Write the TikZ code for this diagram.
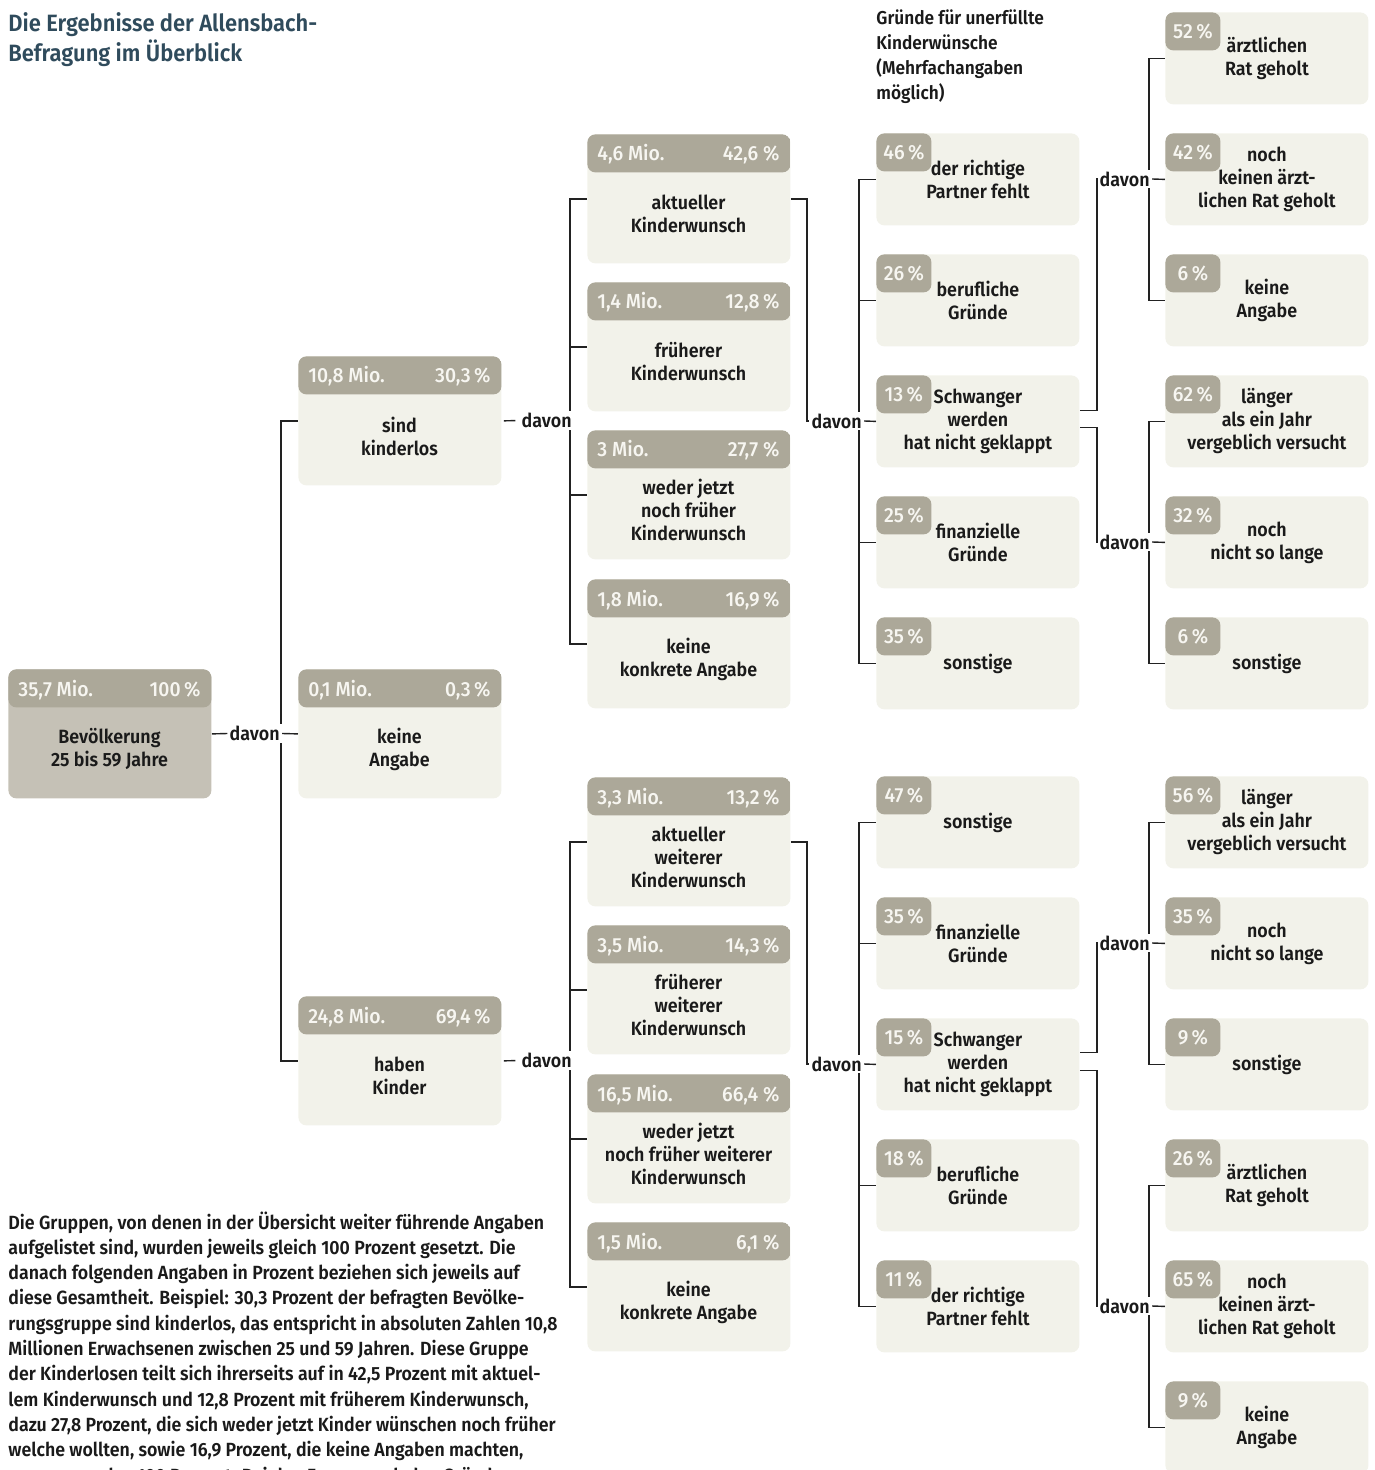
\documentclass[tikz,border=0pt]{standalone}
\usepackage{fontspec}
\setmainfont{Fira Sans SemiBold}[FakeStretch=0.93]
\newfontfamily\hdfont{Fira Sans Medium}[FakeStretch=0.95]
\usetikzlibrary{calc,backgrounds}
\definecolor{bodyc}{HTML}{F2F2EA}
\definecolor{headc}{HTML}{ACA899}
\definecolor{rootc}{HTML}{C5C1B6}
\definecolor{titlec}{HTML}{2F4B5C}
\definecolor{txtc}{HTML}{1A1A1A}
\definecolor{hdtxt}{HTML}{F7F6F1}
\definecolor{linec}{HTML}{222222}

\tikzset{
  bigbox/.style={draw=none, fill=bodyc, rounded corners=4pt, minimum width=101.5pt,
    minimum height=64.5pt, inner sep=0pt, anchor=north west,
    path picture={\fill[headc] (path picture bounding box.north west) rectangle
      ([yshift=-19pt]path picture bounding box.north east);}},
  rootbox/.style={fill=rootc},
  smallbox/.style={draw=none, fill=bodyc, rounded corners=4pt, minimum width=101.5pt,
    minimum height=46pt, inner sep=0pt, anchor=north west},
  badge/.style={anchor=north west, fill=headc, rounded corners=4pt, minimum width=27.5pt,
    minimum height=19pt, inner sep=0pt, text=hdtxt, font=\hdfont\fontsize{10.2}{12}\selectfont},
  hdtext/.style={font=\hdfont\fontsize{10.2}{12}\selectfont, text=hdtxt, inner sep=0pt},
  boxtext/.style={align=center, font=\fontsize{9.6}{11.5}\selectfont, text=txtc, inner sep=0pt},
  davon/.style={font=\fontsize{9.6}{11.5}\selectfont, text=txtc, fill=white, inner sep=1pt, anchor=east},
  ln/.style={draw=linec, line width=0.7pt},
}

\newcommand\BigBox[7]{%
  \node[bigbox,#7] (#1) at (#2,#3) {};
  \node[hdtext,anchor=base west] (#1-m) at ($(#1.north west)+(10,27)$) {#4};
  \node[hdtext,anchor=base east] (#1-p) at ($(#1.north east)+(-11,27)$) {#5};
  \node[boxtext] (#1-t) at ($(#1.north west)+(101.5,80)$) {#6};
}
\newcommand\SmallBox[5]{%
  \node[smallbox] (#1) at (#2,#3) {};
  \node[badge] (#1-b) at (#1.north west) {#4};
  \node[boxtext] (#1-t) at (#1.center) {#5};
}

\begin{document}
\begin{tikzpicture}[x=0.5pt,y=-0.5pt]
\useasboundingbox (0,0) rectangle (1374,1470);
\clip (0,0) rectangle (1374,1470);

% titles (anchor = baseline of last line)
\node[anchor=base west, align=left, font=\fontsize{11.8}{15}\selectfont, text=titlec, inner sep=0pt]
  (title) at (8,62) {Die Ergebnisse der Allensbach-\\Befragung im Überblick};
\node[anchor=base west, align=left, font=\fontsize{9.3}{12.65}\selectfont, text=txtc, inner sep=0pt]
  (head) at (876,100) {Gründe für unerfüllte\\Kinderwünsche\\(Mehrfachangaben\\möglich)};

% note
\node[anchor=base west, align=left, font=\fontsize{9.55}{12.65}\selectfont, text=txtc, inner sep=0pt]
  (note) at (8,1482) {Die Gruppen, von denen in der Übersicht weiter führende Angaben\\
aufgelistet sind, wurden jeweils gleich 100 Prozent gesetzt. Die\\
danach folgenden Angaben in Prozent beziehen sich jeweils auf\\
diese Gesamtheit. Beispiel: 30,3 Prozent der befragten Bevölke-\\
rungsgruppe sind kinderlos, das entspricht in absoluten Zahlen 10,8\\
Millionen Erwachsenen zwischen 25 und 59 Jahren. Diese Gruppe\\
der Kinderlosen teilt sich ihrerseits auf in 42,5 Prozent mit aktuel-\\
lem Kinderwunsch und 12,8 Prozent mit früherem Kinderwunsch,\\
dazu 27,8 Prozent, die sich weder jetzt Kinder wünschen noch früher\\
welche wollten, sowie 16,9 Prozent, die keine Angaben machten,\\
zusammen also 100 Prozent. Bei den Fragen nach den Gründen};

% column 1
\BigBox{root}{8}{669}{35,7 Mio.}{100\,\%}{Bevölkerung\\25 bis 59 Jahre}{rootbox}
% column 2
\BigBox{k1}{298}{356}{10,8 Mio.}{30,3\,\%}{sind\\kinderlos}{}
\BigBox{k2}{298}{669}{0,1 Mio.}{0,3\,\%}{keine\\Angabe}{}
\BigBox{k3}{298}{996}{24,8 Mio.}{69,4\,\%}{haben\\Kinder}{}
% column 3
\BigBox{c1}{587}{134}{4,6 Mio.}{42,6 \%}{aktueller\\Kinderwunsch}{}
\BigBox{c2}{587}{282}{1,4 Mio.}{12,8\,\%}{früherer\\Kinderwunsch}{}
\BigBox{c3}{587}{430}{3 Mio.}{27,7 \%}{weder jetzt\\noch früher\\Kinderwunsch}{}
\BigBox{c4}{587}{579}{1,8 Mio.}{16,9\,\%}{keine\\konkrete Angabe}{}
\BigBox{c5}{587}{777}{3,3 Mio.}{13,2\,\%}{aktueller\\weiterer\\Kinderwunsch}{}
\BigBox{c6}{587}{925}{3,5 Mio.}{14,3\,\%}{früherer\\weiterer\\Kinderwunsch}{}
\BigBox{c7}{587}{1074}{16,5 Mio.}{66,4 \%}{weder jetzt\\noch früher weiterer\\Kinderwunsch}{}
\BigBox{c8}{587}{1222}{1,5 Mio.}{6,1 \%}{keine\\konkrete Angabe}{}
% column 4
\SmallBox{r1}{876}{133}{46\,\%}{der richtige\\Partner fehlt}
\SmallBox{r2}{876}{254}{26\,\%}{berufliche\\Gründe}
\SmallBox{r3}{876}{375}{13\,\%}{Schwanger\\werden\\hat nicht geklappt}
\SmallBox{r4}{876}{496}{25\,\%}{finanzielle\\Gründe}
\SmallBox{r5}{876}{617}{35\,\%}{sonstige}
\SmallBox{q1}{876}{776}{47\,\%}{sonstige}
\SmallBox{q2}{876}{897}{35\,\%}{finanzielle\\Gründe}
\SmallBox{q3}{876}{1018}{15\,\%}{Schwanger\\werden\\hat nicht geklappt}
\SmallBox{q4}{876}{1139}{18\,\%}{berufliche\\Gründe}
\SmallBox{q5}{876}{1260}{11\,\%}{der richtige\\Partner fehlt}
% column 5
\SmallBox{s1}{1165}{12}{52\,\%}{ärztlichen\\Rat geholt}
\SmallBox{s2}{1165}{133}{42\,\%}{noch\\keinen ärzt-\\lichen Rat geholt}
\SmallBox{s3}{1165}{254}{6\,\%}{keine\\Angabe}
\SmallBox{s4}{1165}{375}{62\,\%}{länger\\als ein Jahr\\vergeblich versucht}
\SmallBox{s5}{1165}{496}{32\,\%}{noch\\nicht so lange}
\SmallBox{s6}{1165}{617}{6\,\%}{sonstige}
\SmallBox{t1}{1165}{776}{56\,\%}{länger\\als ein Jahr\\vergeblich versucht}
\SmallBox{t2}{1165}{897}{35\,\%}{noch\\nicht so lange}
\SmallBox{t3}{1165}{1018}{9\,\%}{sonstige}
\SmallBox{t4}{1165}{1139}{26\,\%}{ärztlichen\\Rat geholt}
\SmallBox{t5}{1165}{1260}{65\,\%}{noch\\keinen ärzt-\\lichen Rat geholt}
\SmallBox{t6}{1165}{1381}{9\,\%}{keine\\Angabe}

% davon labels
\node[davon] (d0) at (282,733.5) {davon};
\node[davon] (d1) at (574,420.5) {davon};
\node[davon] (d2) at (864,421) {davon};
\node[davon] (d3) at (1152,179) {davon};
\node[davon] (d4) at (1152,542) {davon};
\node[davon] (d5) at (574,1060.5) {davon};
\node[davon] (d6) at (864,1064) {davon};
\node[davon] (d7) at (1152,943) {davon};
\node[davon] (d8) at (1152,1306) {davon};

\begin{scope}[on background layer]
% root -> column 2
\draw[ln] (root.east) -- (d0.west);
\draw[ln] (d0.east) -- (k2.west);
\draw[ln] (k1.west) -- ++(-17,0) |- (k3.west);
% kinderlos -> column 3
\draw[ln, shorten <=1pt, shorten >=2pt] (k1.east) -- (d1.west);
\draw[ln] (c1.west) -- ++(-17,0) |- (c4.west);
\draw[ln] (c2.west) -- ++(-17,0);
\draw[ln] (c3.west) -- ++(-17,0);
% aktueller Kinderwunsch -> column 4
\draw[ln] (c1.east) -- ++(16,0) |- (d2.west);
\draw[ln] (d2.east) -- (r3.west);
\draw[ln] (r1.west) -- ++(-17,0) |- (r5.west);
\draw[ln] (r2.west) -- ++(-17,0);
\draw[ln] (r4.west) -- ++(-17,0);
% Schwanger -> column 5 (top)
\draw[ln] ($(r3.east)+(0,-11)$) -- ++(17,0) |- (d3.west);
\draw[ln] (d3.east) -- (s2.west);
\draw[ln] (s1.west) -- ++(-16,0) |- (s3.west);
\draw[ln] ($(r3.east)+(0,6)$) -- ++(17,0) |- (d4.west);
\draw[ln] (d4.east) -- (s5.west);
\draw[ln] (s4.west) -- ++(-16,0) |- (s6.west);
% haben Kinder -> column 3
\draw[ln, shorten <=1pt, shorten >=2pt] (k3.east) -- (d5.west);
\draw[ln] (c5.west) -- ++(-17,0) |- (c8.west);
\draw[ln] (c6.west) -- ++(-17,0);
\draw[ln] (c7.west) -- ++(-17,0);
% aktueller weiterer Kinderwunsch -> column 4
\draw[ln] (c5.east) -- ++(16,0) |- (d6.west);
\draw[ln] (d6.east) -- (q3.west);
\draw[ln] (q1.west) -- ++(-17,0) |- (q5.west);
\draw[ln] (q2.west) -- ++(-17,0);
\draw[ln] (q4.west) -- ++(-17,0);
% Schwanger -> column 5 (bottom)
\draw[ln] ($(q3.east)+(0,-12)$) -- ++(17,0) |- (d7.west);
\draw[ln] (d7.east) -- (t2.west);
\draw[ln] (t1.west) -- ++(-16,0) |- (t3.west);
\draw[ln] ($(q3.east)+(0,6)$) -- ++(17,0) |- (d8.west);
\draw[ln] (d8.east) -- (t5.west);
\draw[ln] (t4.west) -- ++(-16,0) |- (t6.west);
\end{scope}
\end{tikzpicture}
\end{document}
